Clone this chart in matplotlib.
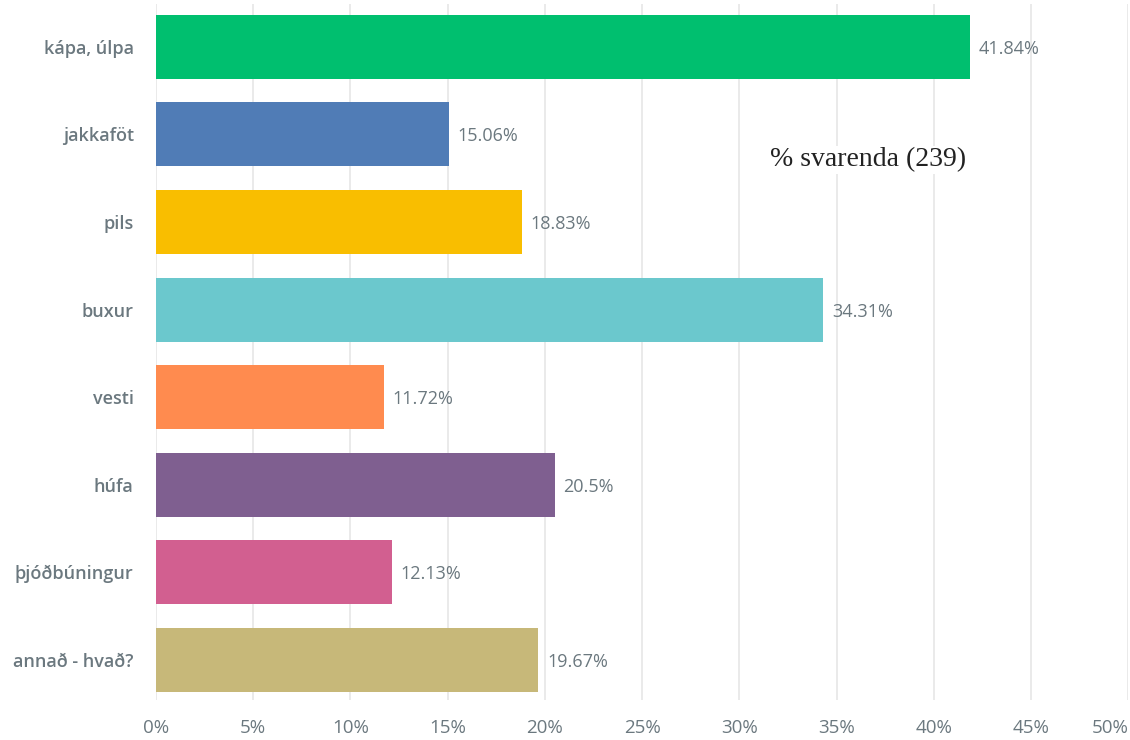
import matplotlib.pyplot as plt
import numpy as np

# Survey answers (% of respondents)
categories = ['kápa, úlpa', 'jakkaföt', 'pils', 'buxur', 'vesti',
              'húfa', 'þjóðbúningur', 'annað - hvað?']
values = [41.84, 15.06, 18.83, 34.31, 11.72, 20.5, 12.13, 19.67]
value_labels = ['41.84%', '15.06%', '18.83%', '34.31%', '11.72%',
                '20.5%', '12.13%', '19.67%']
colors = ['#00BF6F', '#507CB6', '#F9BE00', '#6BC8CD', '#FF8B4F',
          '#7F5F90', '#D25F90', '#C7B879']
xticks = [0, 5, 10, 15, 20, 25, 30, 35, 40, 45, 50]
xtick_labels = [f'{t}%' for t in xticks]

text_color = '#6B787F'

fig = plt.figure(figsize=(11.3, 7.4), dpi=100)
ax = fig.add_axes([0.138, 0.054, 0.8605, 0.9406])

y = np.arange(len(categories))
ax.barh(y, values, height=0.73, color=colors, zorder=3)

for yi, v, lab in zip(y, values, value_labels):
    ax.text(v + 0.45, yi, lab, va='center_baseline', ha='left', fontsize=13,
            color=text_color, family='Open Sans', zorder=4)

ax.set_xlim(0, 50)
ax.set_ylim(7.46, -0.49)
ax.set_yticks(y)
ax.set_yticklabels(categories, fontsize=13, color=text_color,
                   family='Open Sans', fontweight='semibold')
ax.set_xticks(xticks)
ax.set_xticklabels(xtick_labels, fontsize=13.5, color=text_color,
                   family='Open Sans')
ax.get_xticklabels()[-1].set_horizontalalignment('right')
ax.tick_params(axis='both', length=0)
ax.tick_params(axis='y', pad=16)
ax.tick_params(axis='x', pad=14)

ax.grid(axis='x', color='#E8E8E8', linewidth=1.3, zorder=0)
for s in ax.spines.values():
    s.set_visible(False)

ax.text(31.6, 1.29, '% svarenda (239)', fontsize=20, family='Liberation Serif',
        color='#222222', va='center', ha='left',
        bbox=dict(facecolor='white', edgecolor='none', pad=1), zorder=2)

fig.savefig('out.png', dpi=100)
